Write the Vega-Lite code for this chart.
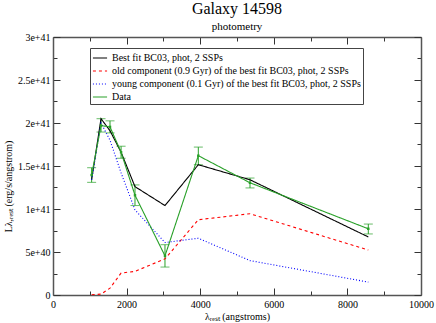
{
  "$schema": "https://vega.github.io/schema/vega-lite/v6.json",
  "autosize": "none",
  "width": 368,
  "height": 258,
  "padding": {"left": 53, "top": 37, "right": 15, "bottom": 28},
  "background": "white",
  "title": {
    "text": "Galaxy 14598",
    "subtitle": "photometry",
    "font": "Liberation Serif",
    "fontSize": 16,
    "fontWeight": "normal",
    "subtitleFont": "Liberation Serif",
    "subtitleFontSize": 11,
    "subtitlePadding": 4,
    "anchor": "middle",
    "offset": 0,
    "color": "black",
    "subtitleColor": "black"
  },
  "config": {
    "view": {"stroke": null},
    "font": "Liberation Serif",
    "axis": {
      "labelFont": "Liberation Serif",
      "labelFontSize": 10,
      "labelColor": "black",
      "titleFont": "Liberation Serif",
      "titleFontSize": 10,
      "titleFontWeight": "normal",
      "titleColor": "black",
      "domainColor": "#555",
      "domainWidth": 1.5,
      "tickColor": "#333",
      "grid": false
    },
    "legend": {
      "orient": "none",
      "legendX": 37,
      "legendY": 11,
      "strokeColor": "#444",
      "fillColor": "white",
      "padding": 2,
      "labelFont": "Liberation Serif",
      "labelFontSize": 10,
      "labelColor": "black",
      "symbolType": "stroke",
      "symbolSize": 200,
      "symbolStrokeWidth": 1.2,
      "rowPadding": -2,
      "labelLimit": 400
    }
  },
  "data": {
    "values": [
      {"lambda": 1050, "series": "Best fit BC03, phot, 2 SSPs", "L": 1.34e41},
      {"lambda": 1305, "series": "Best fit BC03, phot, 2 SSPs", "L": 2.05e41},
      {"lambda": 1549, "series": "Best fit BC03, phot, 2 SSPs", "L": 1.91e41},
      {"lambda": 1850, "series": "Best fit BC03, phot, 2 SSPs", "L": 1.66e41},
      {"lambda": 2228, "series": "Best fit BC03, phot, 2 SSPs", "L": 1.26e41},
      {"lambda": 3043, "series": "Best fit BC03, phot, 2 SSPs", "L": 1.04e41},
      {"lambda": 3949, "series": "Best fit BC03, phot, 2 SSPs", "L": 1.515e41},
      {"lambda": 5353, "series": "Best fit BC03, phot, 2 SSPs", "L": 1.34e41},
      {"lambda": 8568, "series": "Best fit BC03, phot, 2 SSPs", "L": 0.675e41},
      {"lambda": 1050, "series": "old component (0.9 Gyr) of the best fit BC03, phot, 2 SSPs", "L": 0.003e41},
      {"lambda": 1305, "series": "old component (0.9 Gyr) of the best fit BC03, phot, 2 SSPs", "L": 0.01e41},
      {"lambda": 1549, "series": "old component (0.9 Gyr) of the best fit BC03, phot, 2 SSPs", "L": 0.08e41},
      {"lambda": 1850, "series": "old component (0.9 Gyr) of the best fit BC03, phot, 2 SSPs", "L": 0.255e41},
      {"lambda": 2228, "series": "old component (0.9 Gyr) of the best fit BC03, phot, 2 SSPs", "L": 0.275e41},
      {"lambda": 3043, "series": "old component (0.9 Gyr) of the best fit BC03, phot, 2 SSPs", "L": 0.42e41},
      {"lambda": 3949, "series": "old component (0.9 Gyr) of the best fit BC03, phot, 2 SSPs", "L": 0.875e41},
      {"lambda": 5353, "series": "old component (0.9 Gyr) of the best fit BC03, phot, 2 SSPs", "L": 0.945e41},
      {"lambda": 8568, "series": "old component (0.9 Gyr) of the best fit BC03, phot, 2 SSPs", "L": 0.523e41},
      {"lambda": 1050, "series": "young component (0.1 Gyr) of the best fit BC03, phot, 2 SSPs", "L": 1.34e41},
      {"lambda": 1305, "series": "young component (0.1 Gyr) of the best fit BC03, phot, 2 SSPs", "L": 2.0e41},
      {"lambda": 1549, "series": "young component (0.1 Gyr) of the best fit BC03, phot, 2 SSPs", "L": 1.8e41},
      {"lambda": 1850, "series": "young component (0.1 Gyr) of the best fit BC03, phot, 2 SSPs", "L": 1.42e41},
      {"lambda": 2228, "series": "young component (0.1 Gyr) of the best fit BC03, phot, 2 SSPs", "L": 0.99e41},
      {"lambda": 3043, "series": "young component (0.1 Gyr) of the best fit BC03, phot, 2 SSPs", "L": 0.61e41},
      {"lambda": 3949, "series": "young component (0.1 Gyr) of the best fit BC03, phot, 2 SSPs", "L": 0.66e41},
      {"lambda": 5353, "series": "young component (0.1 Gyr) of the best fit BC03, phot, 2 SSPs", "L": 0.40e41},
      {"lambda": 8568, "series": "young component (0.1 Gyr) of the best fit BC03, phot, 2 SSPs", "L": 0.15e41},
      {"lambda": 1050, "series": "Data", "L": 1.395e41, "lo": 1.31e41, "hi": 1.48e41},
      {"lambda": 1305, "series": "Data", "L": 1.97e41, "lo": 1.895e41, "hi": 2.05e41},
      {"lambda": 1549, "series": "Data", "L": 1.955e41, "lo": 1.885e41, "hi": 2.025e41},
      {"lambda": 1850, "series": "Data", "L": 1.66e41, "lo": 1.59e41, "hi": 1.73e41},
      {"lambda": 2228, "series": "Data", "L": 1.16e41, "lo": 1.04e41, "hi": 1.28e41},
      {"lambda": 3043, "series": "Data", "L": 0.455e41, "lo": 0.325e41, "hi": 0.585e41},
      {"lambda": 3949, "series": "Data", "L": 1.62e41, "lo": 1.515e41, "hi": 1.72e41},
      {"lambda": 5353, "series": "Data", "L": 1.305e41, "lo": 1.245e41, "hi": 1.36e41},
      {"lambda": 8568, "series": "Data", "L": 0.77e41, "lo": 0.71e41, "hi": 0.825e41}
    ]
  },
  "resolve": {"axis": {"x": "independent", "y": "independent"}},
  "layer": [
    {
      "transform": [{"filter": "datum.series == 'Data'"}],
      "mark": {"type": "errorbar", "ticks": {"size": 9}, "color": "#28a028", "thickness": 1},
      "encoding": {
        "x": {"field": "lambda", "type": "quantitative", "scale": {"domain": [0, 10000], "nice": false}, "axis": null},
        "y": {"field": "lo", "type": "quantitative", "scale": {"domain": [0, 3e41], "nice": false}, "axis": null},
        "y2": {"field": "hi"}
      }
    },
    {
      "mark": {"type": "line", "strokeWidth": 1.1},
      "encoding": {
        "x": {
          "field": "lambda", "type": "quantitative",
          "scale": {"domain": [0, 10000], "nice": false},
          "axis": {
            "orient": "bottom",
            "title": "λᵣₑₛₜ (angstroms)",
            "values": [0, 1000, 2000, 3000, 4000, 5000, 6000, 7000, 8000, 9000, 10000],
            "labelExpr": "datum.value % 2000 == 0 ? datum.value : ''",
            "tickSize": {"condition": {"test": "datum.value % 2000 == 0", "value": -7}, "value": -4},
            "labelPadding": 11,
            "titlePadding": 2,
            "labelFlush": false
          }
        },
        "y": {
          "field": "L", "type": "quantitative",
          "scale": {"domain": [0, 3e41], "nice": false},
          "axis": {
            "orient": "left",
            "title": "Lλ,ᵣₑₛₜ (erg/s/angstrom)",
            "values": [0, 2.5e40, 5e40, 7.5e40, 1e41, 1.25e41, 1.5e41, 1.75e41, 2e41, 2.25e41, 2.5e41, 2.75e41, 3e41],
            "labelExpr": "datum.value == 0 ? '0' : (round(datum.value / 2.5e40) % 2 == 1 ? '' : format(datum.value, '.1~e'))",
            "tickSize": {"condition": {"test": "round(datum.value / 2.5e40) % 2 == 1", "value": -4}, "value": -7},
            "labelPadding": 10,
            "labelFlush": false,
            "titlePadding": 4,
            "titleY": 149
          }
        },
        "color": {
          "field": "series", "type": "nominal",
          "scale": {
            "domain": ["Best fit BC03, phot, 2 SSPs", "old component (0.9 Gyr) of the best fit BC03, phot, 2 SSPs", "young component (0.1 Gyr) of the best fit BC03, phot, 2 SSPs", "Data"],
            "range": ["#000000", "#ff0000", "#0000ff", "#28a028"]
          },
          "legend": {"title": null}
        },
        "strokeDash": {
          "field": "series", "type": "nominal",
          "scale": {
            "domain": ["Best fit BC03, phot, 2 SSPs", "old component (0.9 Gyr) of the best fit BC03, phot, 2 SSPs", "young component (0.1 Gyr) of the best fit BC03, phot, 2 SSPs", "Data"],
            "range": [[1, 0], [3, 3], [1, 2], [1, 0]]
          },
          "legend": {"title": null}
        }
      }
    },
    {
      "transform": [{"filter": "datum.series == 'Data'"}],
      "mark": {"type": "point", "shape": "square", "filled": true, "size": 6, "color": "#28a028", "opacity": 1},
      "encoding": {
        "x": {
          "field": "lambda", "type": "quantitative",
          "scale": {"domain": [0, 10000], "nice": false},
          "axis": {
            "orient": "top", "title": null, "labels": false,
            "values": [0, 1000, 2000, 3000, 4000, 5000, 6000, 7000, 8000, 9000, 10000],
            "tickSize": {"condition": {"test": "datum.value % 2000 == 0", "value": -7}, "value": -4}
          }
        },
        "y": {
          "field": "L", "type": "quantitative",
          "scale": {"domain": [0, 3e41], "nice": false},
          "axis": {
            "orient": "right", "title": null, "labels": false,
            "values": [0, 2.5e40, 5e40, 7.5e40, 1e41, 1.25e41, 1.5e41, 1.75e41, 2e41, 2.25e41, 2.5e41, 2.75e41, 3e41],
            "tickSize": {"condition": {"test": "round(datum.value / 2.5e40) % 2 == 1", "value": -4}, "value": -7}
          }
        }
      }
    }
  ]
}
